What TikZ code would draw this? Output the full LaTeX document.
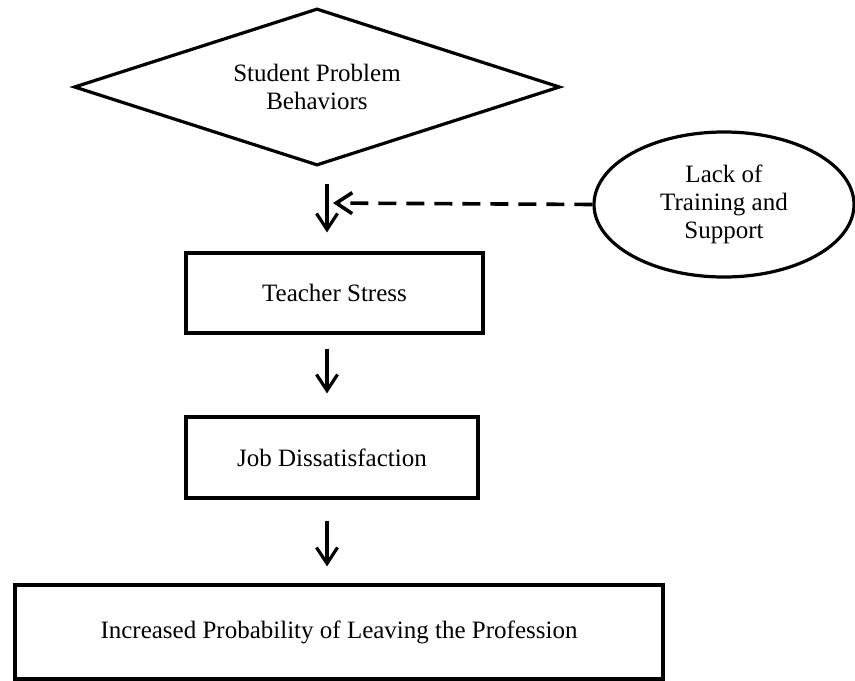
\documentclass[tikz,border=0pt]{standalone}
\usepackage{fontspec}
\setmainfont{Liberation Serif}
\usetikzlibrary{shapes.geometric, arrows.meta, positioning}

\begin{document}
\begin{tikzpicture}[x=0.5pt, y=-0.5pt,
  every node/.style={font=\fontsize{12.5}{14}\selectfont, align=center},
  box/.style={draw, rectangle, line width=1.6pt, inner sep=0pt},
  flow/.style={-{Straight Barb[length=8pt, width=10.5pt]}, line width=1.6pt},
  lack/.style={flow, line width=1.8pt, dash pattern=on 9pt off 5pt}]
\useasboundingbox (0,0) rectangle (855,680);

% Cause
\node[draw, diamond, aspect=3.1, line width=1.6pt, minimum width=243pt, minimum height=78.5pt, inner sep=0pt] (problem) at (317,87) {Student Problem\\Behaviors};

% Moderator
\node[draw, ellipse, line width=1.6pt, minimum width=130pt, minimum height=72.5pt, inner sep=0pt] (support) at (724,204.5) {Lack of\\Training and\\Support};
\coordinate (join) at (327,203);

% Chain of outcomes
\node[box, minimum width=148.5pt, minimum height=40pt] (stress) at (334.5,293) {Teacher Stress};
\node[box, minimum width=146pt, minimum height=40.5pt] (jobs) at (332,457.5) {Job Dissatisfaction};
\node[box, minimum width=324pt, minimum height=47pt] (leave) at (339,632) {Increased Probability of Leaving the Profession};

% Arrows
\draw[flow, shorten <=8.5pt, shorten >=9.5pt] (problem.south -| join) -- (stress.north -| join);
\draw[flow, shorten <=7pt, shorten >=11pt] (stress.south -| join) -- (jobs.north -| join);
\draw[flow, shorten <=10.5pt, shorten >=8.5pt] (jobs.south -| join) -- (leave.north -| join);
\draw[lack, shorten >=3pt] (support.west) -- (join);
\end{tikzpicture}
\end{document}
